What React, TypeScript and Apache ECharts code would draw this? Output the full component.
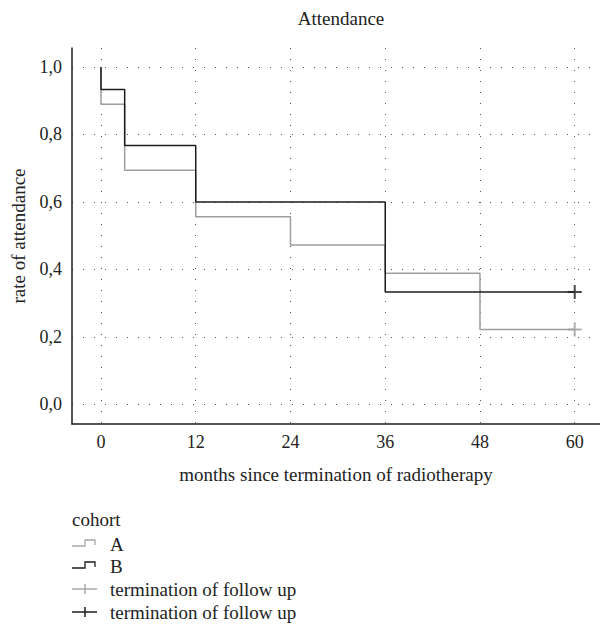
import React, { useEffect, useRef } from "react";
import * as echarts from "echarts";

// ---- data ----
const monthTicks = [0, 12, 24, 36, 48, 60];
const rateTicks = [0, 0.2, 0.4, 0.6, 0.8, 1.0];
const timesA = [0, 0, 3, 12, 24, 36, 48, 60];
const rateA = [1.0, 0.889, 0.694, 0.556, 0.472, 0.389, 0.222, 0.222];
const timesB = [0, 0, 3, 12, 36, 60];
const rateB = [1.0, 0.933, 0.767, 0.6, 0.333, 0.333];
const censorTimeA = [60];
const censorRateA = [0.222];
const censorTimeB = [60];
const censorRateB = [0.333];
const legendTitle = "cohort";
const legendLabels = ["A", "B", "termination of follow up", "termination of follow up"];

const FONT = "'Liberation Serif', 'DejaVu Serif', serif";
const GREY = "#9d9d9d";
const BLACK = "#1c1c1c";
const TEXT = "#222222";
const PLUS = "path://M0,6 L14,6 L14,8 L0,8 Z M6,0 L8,0 L8,14 L6,14 Z";

const fmt = (v: number) => v.toFixed(1).replace(".", ",");

export default function App() {
  const ref = useRef<HTMLDivElement>(null);
  useEffect(() => {
    if (!ref.current) return;
    const chart = echarts.init(ref.current, null, { renderer: "svg" });
    const font = (size: number) => `${size}px ${FONT}`;
    const legendRows = [544, 566, 589, 612];
    const graphics: any[] = [
      {
        type: "text",
        x: 72,
        y: 519,
        style: { text: legendTitle, font: font(19), fill: TEXT, verticalAlign: "middle" },
      },
    ];
    legendLabels.forEach((lab, i) => {
      const y = legendRows[i];
      const col = i % 2 === 0 ? "#a8a8a8" : BLACK;
      if (i < 2) {
        graphics.push({
          type: "polyline",
          shape: { points: [[72, y + 2], [85, y + 2], [85, y - 4], [95, y - 4], [95, y + 1]] },
          style: { stroke: col, lineWidth: 1.3, fill: "none" },
        });
      } else {
        graphics.push({
          type: "line",
          shape: { x1: 72, y1: y, x2: 97, y2: y },
          style: { stroke: col, lineWidth: 1.5 },
        });
        graphics.push({
          type: "line",
          shape: { x1: 85, y1: y - 5, x2: 85, y2: y + 5 },
          style: { stroke: col, lineWidth: 1.5 },
        });
      }
      graphics.push({
        type: "text",
        x: 110,
        y,
        style: { text: lab, font: font(19), fill: TEXT, verticalAlign: "middle" },
      });
    });

    chart.setOption({
      animation: false,
      backgroundColor: "#ffffff",
      textStyle: { fontFamily: FONT },
      title: {
        text: "Attendance",
        left: 336,
        top: 4,
        textAlign: "center",
        textStyle: { fontFamily: FONT, fontSize: 19, fontWeight: "normal", color: TEXT },
      },
      grid: { left: 72, right: 0, top: 48, bottom: 200, outerBoundsMode: "none" },
      xAxis: {
        type: "value",
        min: -3.67,
        max: 63.2,
        name: "months since termination of radiotherapy",
        nameLocation: "middle",
        nameGap: 41,
        nameTextStyle: { fontFamily: FONT, fontSize: 19, color: TEXT },
        axisLine: { show: true, onZero: false, lineStyle: { color: BLACK, width: 1.5 } },
        axisTick: { show: false, customValues: monthTicks },
        axisLabel: {
          customValues: monthTicks,
          margin: 9,
          fontFamily: FONT,
          fontSize: 18,
          color: TEXT,
        },
        splitLine: { show: true, lineStyle: { type: [1, 10], color: "#555", width: 1 } },
      },
      yAxis: {
        type: "value",
        min: -0.058,
        max: 1.056,
        name: "rate of attendance",
        nameLocation: "middle",
        nameGap: 44,
        nameTextStyle: { fontFamily: FONT, fontSize: 19, color: TEXT },
        axisLine: { show: true, onZero: false, lineStyle: { color: BLACK, width: 1.5 } },
        axisTick: { show: false, customValues: rateTicks },
        axisLabel: {
          customValues: rateTicks,
          margin: 10,
          fontFamily: FONT,
          fontSize: 18,
          color: TEXT,
          formatter: (v: number) => fmt(v),
        },
        splitLine: { show: true, lineStyle: { type: [1, 10], color: "#555", width: 1 } },
      },
      series: [
        {
          type: "line",
          step: "end",
          symbol: "none",
          data: timesA.map((t, i) => [t, rateA[i]]),
          lineStyle: { color: GREY, width: 1.5 },
          z: 2,
        },
        {
          type: "line",
          step: "end",
          symbol: "none",
          data: timesB.map((t, i) => [t, rateB[i]]),
          lineStyle: { color: BLACK, width: 1.5 },
          z: 3,
        },
        {
          type: "scatter",
          symbol: PLUS,
          symbolSize: 14,
          data: censorTimeA.map((t, i) => [t, censorRateA[i]]),
          itemStyle: { color: GREY },
          z: 4,
        },
        {
          type: "scatter",
          symbol: PLUS,
          symbolSize: 14,
          data: censorTimeB.map((t, i) => [t, censorRateB[i]]),
          itemStyle: { color: BLACK },
          z: 5,
        },
      ],
      graphic: graphics,
    });
    return () => chart.dispose();
  }, []);
  return (
    <div
      ref={ref}
      style={{ position: "fixed", left: 0, top: 0, width: 600, height: 624, background: "#fff" }}
    />
  );
}
